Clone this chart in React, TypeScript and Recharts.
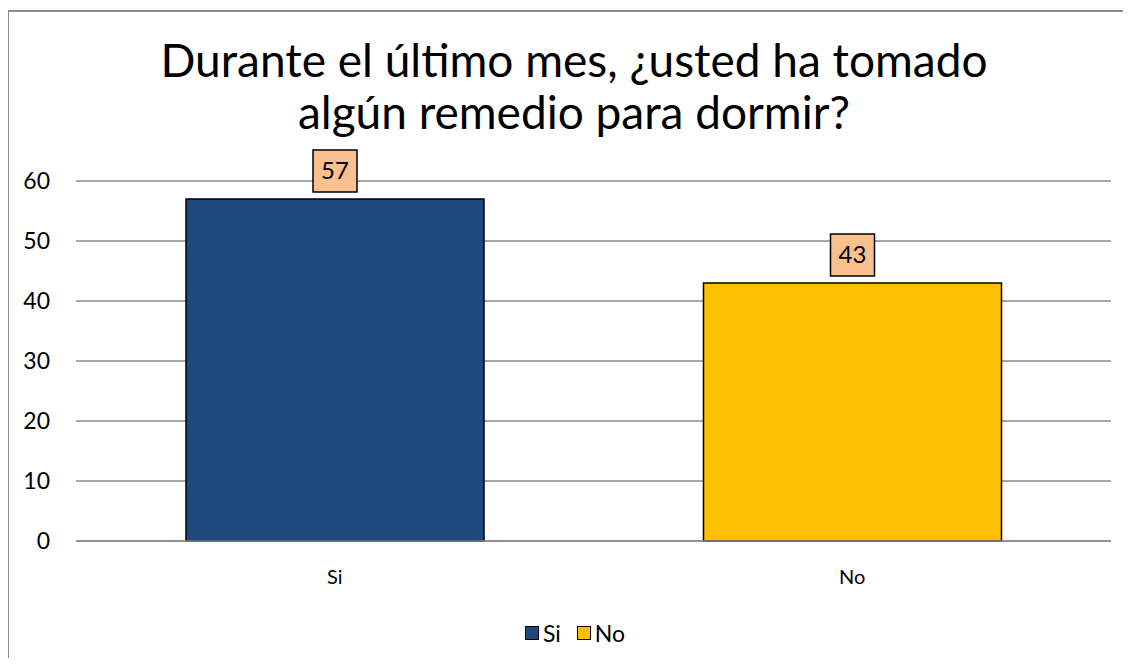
import { BarChart, Bar, XAxis, YAxis, CartesianGrid, Cell, LabelList } from "recharts";

const categories = ["Si", "No"];
const values = [57, 43];
const colors = ["#1F497D", "#FFC000"];
const yTicks = [0, 10, 20, 30, 40, 50, 60];

const data = categories.map((name, i) => ({ name, value: values[i] }));

const FONT = "Lato, 'Liberation Sans', sans-serif";

const ValueLabel = (props: any) => {
  const { x, y, width, value } = props;
  const cx = x + width / 2;
  const bw = 44;
  const bh = 42;
  const top = y - 7 - bh;
  return (
    <g>
      <rect x={cx - bw / 2} y={top} width={bw} height={bh} fill="#FAC090" stroke="#000" strokeWidth={1.5} />
      <text x={cx} y={top + bh / 2 + 8} textAnchor="middle" fontSize={24} fontFamily={FONT} fill="#000">
        {value}
      </text>
    </g>
  );
};

const App = () => {
  return (
    <div style={{ position: "relative", width: 1131, height: 666, margin: -8, overflow: "hidden", background: "#fff" }}>
      <div
        style={{
          position: "absolute",
          left: 7,
          top: 10,
          width: 1200,
          height: 700,
          border: "2px solid #8c8c8c",
          boxSizing: "border-box",
        }}
      />
      <div
        style={{
          position: "absolute",
          left: 7,
          top: 34,
          width: 1134,
          textAlign: "center",
          fontFamily: FONT,
          fontSize: 46,
          lineHeight: "52px",
          color: "#000",
        }}
      >
        Durante el último mes, ¿usted ha tomado
        <br />
        algún remedio para dormir?
      </div>
      <div style={{ position: "absolute", left: 0, top: 0 }}>
        <BarChart
          width={1131}
          height={666}
          data={data}
          margin={{ top: 181, right: 20, left: 0, bottom: 75 }}
          barCategoryGap={110}
        >
          <CartesianGrid vertical={false} stroke="#8a8a8a" strokeWidth={1.5} />
          <XAxis
            dataKey="name"
            height={50}
            axisLine={{ stroke: "#8a8a8a", strokeWidth: 1.5 }}
            tickLine={false}
            tickSize={0}
            tickMargin={29}
            tick={{ fill: "#000", fontSize: 20, fontFamily: FONT }}
          />
          <YAxis
            width={76}
            domain={[0, 60]}
            ticks={yTicks}
            axisLine={false}
            tickLine={false}
            tickSize={0}
            tickMargin={26}
            tick={{ fill: "#000", fontSize: 23, fontFamily: FONT }}
          />
          <Bar dataKey="value" stroke="#000" strokeWidth={1.5} isAnimationActive={false}>
            {data.map((d, i) => (
              <Cell key={d.name} fill={colors[i]} />
            ))}
            <LabelList dataKey="value" content={ValueLabel} />
          </Bar>
        </BarChart>
      </div>
      <div
        style={{
          position: "absolute",
          left: 0,
          top: 619,
          width: 1150,
          display: "flex",
          justifyContent: "center",
          alignItems: "center",
          fontFamily: FONT,
          fontSize: 23,
          color: "#000",
          gap: 16,
        }}
      >
        {categories.map((c, i) => (
          <div key={c} style={{ display: "flex", alignItems: "center", gap: 4 }}>
            <span
              style={{
                display: "inline-block",
                width: 12,
                height: 12,
                background: colors[i],
                border: "1.5px solid #000",
              }}
            />
            <span>{c}</span>
          </div>
        ))}
      </div>
    </div>
  );
};

export default App;
